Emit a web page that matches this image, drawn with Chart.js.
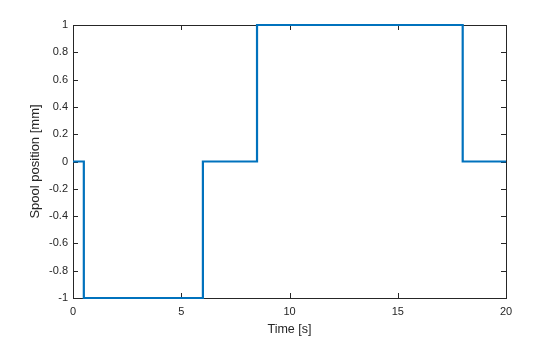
<!DOCTYPE html>
<html>
<head>
<meta charset="utf-8">
<script src="https://cdn.jsdelivr.net/npm/chart.js@4/dist/chart.umd.min.js"></script>
<style>
  html, body { margin: 0; padding: 0; background: #fff; }
  #wrap { width: 560px; height: 337px; }
</style>
</head>
<body>
<div id="wrap"><canvas id="spoolChart" width="560" height="337"></canvas></div>
<script>
// step changes: time [s] where the spool moves, and the position it goes to
const times = [0, 0.5, 6, 8.5, 18, 20];
const positions = [0, -1, 0, 1, 0, 0];
const xTicks = [0, 5, 10, 15, 20];
const yTicks = [-1, -0.8, -0.6, -0.4, -0.2, 0, 0.2, 0.4, 0.6, 0.8, 1];

const axisColor = '#262626';
const lineColor = '#0072BD';

// MATLAB style box with inward tick marks on all four sides (drawn under the line)
const boxPlugin = {
    id: 'boxTicks',
    beforeDatasetsDraw(chart) {
        const ctx = chart.ctx;
        const area = chart.chartArea;
        const xs = chart.scales.x;
        const ys = chart.scales.y;
        const len = 5;
        ctx.save();
        ctx.strokeStyle = axisColor;
        ctx.lineWidth = 1;
        ctx.beginPath();
        xs.ticks.forEach(t => {
            const px = Math.round(xs.getPixelForValue(t.value)) + 0.5;
            ctx.moveTo(px, area.bottom);
            ctx.lineTo(px, area.bottom - len);
            ctx.moveTo(px, area.top);
            ctx.lineTo(px, area.top + len);
        });
        ys.ticks.forEach(t => {
            const py = Math.round(ys.getPixelForValue(t.value)) + 0.5;
            ctx.moveTo(area.left, py);
            ctx.lineTo(area.left + len, py);
            ctx.moveTo(area.right, py);
            ctx.lineTo(area.right - len, py);
        });
        ctx.stroke();
        ctx.strokeRect(Math.round(area.left) + 0.5, Math.round(area.top) + 0.5,
            Math.round(area.right - area.left), Math.round(area.bottom - area.top));
        ctx.restore();
    }
};

const ctx = document.getElementById('spoolChart').getContext('2d');

new Chart(ctx, {
    type: 'line',
    data: {
        datasets: [{
            label: 'Spool position',
            data: times.map((t, i) => ({ x: t, y: positions[i] })),
            borderColor: lineColor,
            borderWidth: 2.2,
            pointRadius: 0,
            fill: false,
            clip: false,
            stepped: 'before'
        }]
    },
    options: {
        responsive: false,
        animation: false,
        layout: {
            padding: { top: 25, right: 54, left: 0, bottom: 0 }
        },
        plugins: {
            legend: { display: false },
            tooltip: { enabled: false }
        },
        scales: {
            x: {
                type: 'linear',
                min: 0,
                max: 20,
                afterBuildTicks: (scale) => { scale.ticks = xTicks.map(v => ({ value: v })); },
                afterFit: (scale) => { scale.height = 39; },
                grid: { display: false, drawTicks: false },
                border: { display: false },
                ticks: {
                    color: axisColor,
                    padding: 7,
                    maxRotation: 0,
                    font: { family: 'Liberation Sans, Arial, sans-serif', size: 11 }
                },
                title: {
                    display: true,
                    text: 'Time [s]',
                    color: axisColor,
                    padding: { top: 0, bottom: 0 },
                    font: { family: 'Liberation Sans, Arial, sans-serif', size: 12.5 }
                }
            },
            y: {
                type: 'linear',
                min: -1,
                max: 1,
                afterBuildTicks: (scale) => { scale.ticks = yTicks.map(v => ({ value: v })); },
                afterFit: (scale) => { scale.width = 73; },
                grid: { display: false, drawTicks: false },
                border: { display: false },
                ticks: {
                    color: axisColor,
                    padding: 5,
                    callback: (v) => String(Math.round(v * 10) / 10),
                    font: { family: 'Liberation Sans, Arial, sans-serif', size: 11 }
                },
                title: {
                    display: true,
                    text: 'Spool position [mm]',
                    color: axisColor,
                    padding: { top: 28, bottom: 0 },
                    font: { family: 'Liberation Sans, Arial, sans-serif', size: 13 }
                }
            }
        }
    },
    plugins: [boxPlugin]
});
</script>
</body>
</html>
